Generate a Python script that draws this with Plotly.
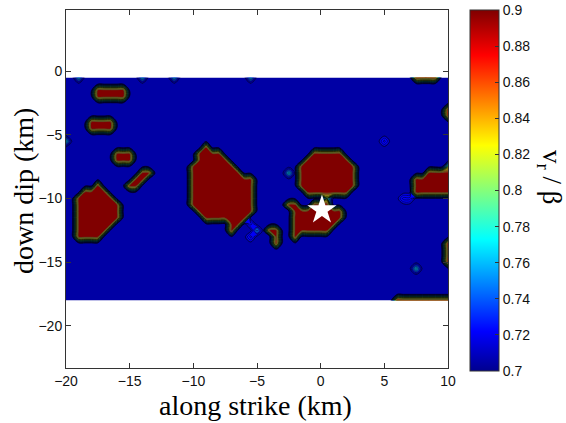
import numpy as np
import plotly.graph_objects as go

# ---------------- data ----------------
# grid of the fault plane (km)
x_km = np.linspace(-20, 10, 61)     # along strike, 0.5 km spacing
y_km = np.linspace(-0.5, -18, 36)   # down dip, 0.5 km spacing

# value codes (vr / beta)
code_values = {'.': 0.70, '#': 0.90, 'd': 0.77, 'l': 0.73,
               'b': 0.75, 'c': 0.79, 'g': 0.81}

# one string per grid row (top -> bottom), '|' separates groups of 10 columns
vr_rows = [
    "..d.......|..d....d..|.........d|..........|..........|.....####.|.",  # -0.5
    "..........|..........|..........|..........|..........|..........|.",  # -1.0
    ".....#####|..........|..........|..........|..........|..........|.",  # -1.5
    ".....#####|..........|..........|..........|..........|..........|.",  # -2.0
    "..........|..........|..........|..........|..........|..........|.",  # -2.5
    "..........|..........|..........|..........|..........|..........|#",  # -3.0
    "..........|..........|..........|..........|..........|..........|#",  # -3.5
    "....####..|..........|..........|..........|..........|..........|.",  # -4.0
    "....####..|..........|..........|..........|..........|..........|.",  # -4.5
    "..........|..........|..........|..........|..........|..........|.",  # -5.0
    "d.........|..........|..........|..........|..........|l.........|.",  # -5.5
    "..........|..........|..#.......|..........|..........|..........|.",  # -6.0
    "........##|#.........|.####.....|.........#|####......|..........|.",  # -6.5
    "........##|#.........|.#####....|........##|#####.....|..........|.",  # -7.0
    "..........|..........|#######...|.......###|######....|..........|g",  # -7.5
    "..........|..##......|########..|.....d.###|######....|.......###|#",  # -8.0
    "..........|.##.......|##########|.......###|######....|.....#####|#",  # -8.5
    ".....#....|##........|##########|.......###|######....|.....#####|#",  # -9.0
    "...####...|..........|##########|........##|#####.....|.....#####|#",  # -9.5
    "..######..|..........|##########|..........|.c........|...ll.....|.",  # -10.0
    "..#######.|..........|##########|.....##..#|##........|..........|.",  # -10.5
    "..#######.|..........|.#########|......####|####......|..........|.",  # -11.0
    "..#######.|..........|..#######.|......####|####......|..........|.",  # -11.5
    "..######..|..........|......##.l|......####|###.......|..........|.",  # -12.0
    "..#####...|..........|......#...|b.##..####|##........|..........|.",  # -12.5
    "..####....|..........|.........l|...#..#...|..........|..........|.",  # -13.0
    "..........|..........|..........|...#......|..........|..........|#",  # -13.5
    "..........|..........|..........|..........|..........|..........|#",  # -14.0
    "..........|..........|..........|..........|..........|..........|#",  # -14.5
    "..........|..........|..........|..........|..........|..........|#",  # -15.0
    "..........|..........|..........|..........|..........|.....d....|.",  # -15.5
    "..........|..........|..........|..........|..........|..........|.",  # -16.0
    "..........|..........|..........|..........|..........|..........|.",  # -16.5
    "..........|..........|..........|..........|..........|..........|.",  # -17.0
    "..........|..........|..........|..........|..........|..........|.",  # -17.5
    "..........|..........|..........|..........|..........|..########|#",  # -18.0
]

hypo_x = [0.1]     # hypocentre (km)
hypo_y = [-10.9]

cbar_range = [0.7, 0.9]
cbar_ticks = [0.7, 0.72, 0.74, 0.76, 0.78, 0.8, 0.82, 0.84, 0.86, 0.88, 0.9]
x_ticks = [-20, -15, -10, -5, 0, 5, 10]
y_ticks = [-20, -15, -10, -5, 0]

# ---------------- build ----------------
z = [[code_values[ch] for ch in row.replace('|', '')] for row in vr_rows]

jet = [[0.0, 'rgb(0,0,143)'], [0.11, 'rgb(0,0,255)'], [0.365, 'rgb(0,255,255)'],
       [0.625, 'rgb(255,255,0)'], [0.875, 'rgb(255,0,0)'], [1.0, 'rgb(128,0,0)']]
jet_fill = [[0.0, 'rgb(0,0,165)'], [0.11, 'rgb(0,0,255)'], [0.365, 'rgb(0,255,255)'],
            [0.625, 'rgb(255,255,0)'], [0.875, 'rgb(255,0,0)'], [1.0, 'rgb(128,0,0)']]

SANS = "Liberation Sans, Arial, sans-serif"
SERIF = "Liberation Serif, Times New Roman, serif"

fig = go.Figure()
# filled contours
fig.add_trace(go.Contour(
    x=x_km, y=y_km, z=z,
    colorscale=jet_fill, showscale=False,
    autocontour=False,
    contours=dict(start=0.71, end=0.89, size=0.02, coloring='fill'),
    line=dict(width=0),
    hoverinfo='skip',
))
# contour lines: black on the lower levels, dark green on the upper levels
fig.add_trace(go.Contour(
    x=x_km, y=y_km, z=z, showscale=False,
    autocontour=False,
    contours=dict(start=0.835, end=0.885, size=0.01, coloring='none'),
    line=dict(color='rgb(60,95,40)', width=0.5),
    hoverinfo='skip',
))
fig.add_trace(go.Contour(
    x=x_km, y=y_km, z=z, showscale=False,
    autocontour=False,
    contours=dict(start=0.705, end=0.825, size=0.01, coloring='none'),
    line=dict(color='black', width=0.5),
    hoverinfo='skip',
))
# colour bar (continuous jet)
fig.add_trace(go.Scatter(
    x=[None], y=[None], mode='markers', showlegend=False, hoverinfo='skip',
    marker=dict(
        color=cbar_range, cmin=cbar_range[0], cmax=cbar_range[1], colorscale=jet,
        showscale=True,
        colorbar=dict(
            x=(470 - 66) / 382, xanchor='left', xref='paper',
            y=(368 - 190.5) / 358, yanchor='middle',
            len=361, lenmode='pixels', thickness=29, thicknessmode='pixels',
            outlinecolor='#333333', outlinewidth=1,
            tickvals=cbar_ticks, ticks='inside', ticklen=4, tickcolor='#333333',
            tickfont=dict(family=SANS, size=14, color='#111111'),
            xpad=0, ypad=0,
        ),
    ),
))
fig.add_trace(go.Scatter(
    x=hypo_x, y=hypo_y, mode='markers',
    marker=dict(symbol='star', size=22, color='white', line=dict(width=0)),
    showlegend=False, hoverinfo='skip'))

axis_common = dict(
    showgrid=False, zeroline=False, showline=True, linecolor='#333333', linewidth=1,
    mirror='ticks', ticks='inside', ticklen=5, tickcolor='#333333',
    tickfont=dict(family=SANS, size=14, color='#111111'),
)
fig.update_xaxes(range=[-20, 10], tickvals=x_ticks, **axis_common)
fig.update_yaxes(range=[-23.3, 4.8], tickvals=y_ticks, **axis_common)

fig.update_layout(
    width=566, height=423,
    margin=dict(l=66, r=118, t=10, b=55),
    paper_bgcolor='white', plot_bgcolor='white',
    showlegend=False,
    annotations=[
        dict(text="along strike (km)", xref='paper', yref='paper',
             x=(255 - 66) / 382, y=(368 - 405) / 358, xanchor='center', yanchor='middle',
             showarrow=False, font=dict(family=SERIF, size=28, color='black')),
        dict(text="down dip (km)", xref='paper', yref='paper', textangle=-90,
             x=(23 - 66) / 382, y=(368 - 191) / 358, xanchor='center', yanchor='middle',
             showarrow=False, font=dict(family=SERIF, size=28, color='black')),
        dict(text="v<sub>r</sub> / β", xref='paper', yref='paper', textangle=90,
             x=(550 - 66) / 382, y=(368 - 177) / 358, xanchor='center', yanchor='middle',
             showarrow=False, font=dict(family=SERIF, size=27, color='black')),
    ],
)

fig.write_html("out.html", config={'displayModeBar': False},
               post_script="document.body.style.margin='0px';")
